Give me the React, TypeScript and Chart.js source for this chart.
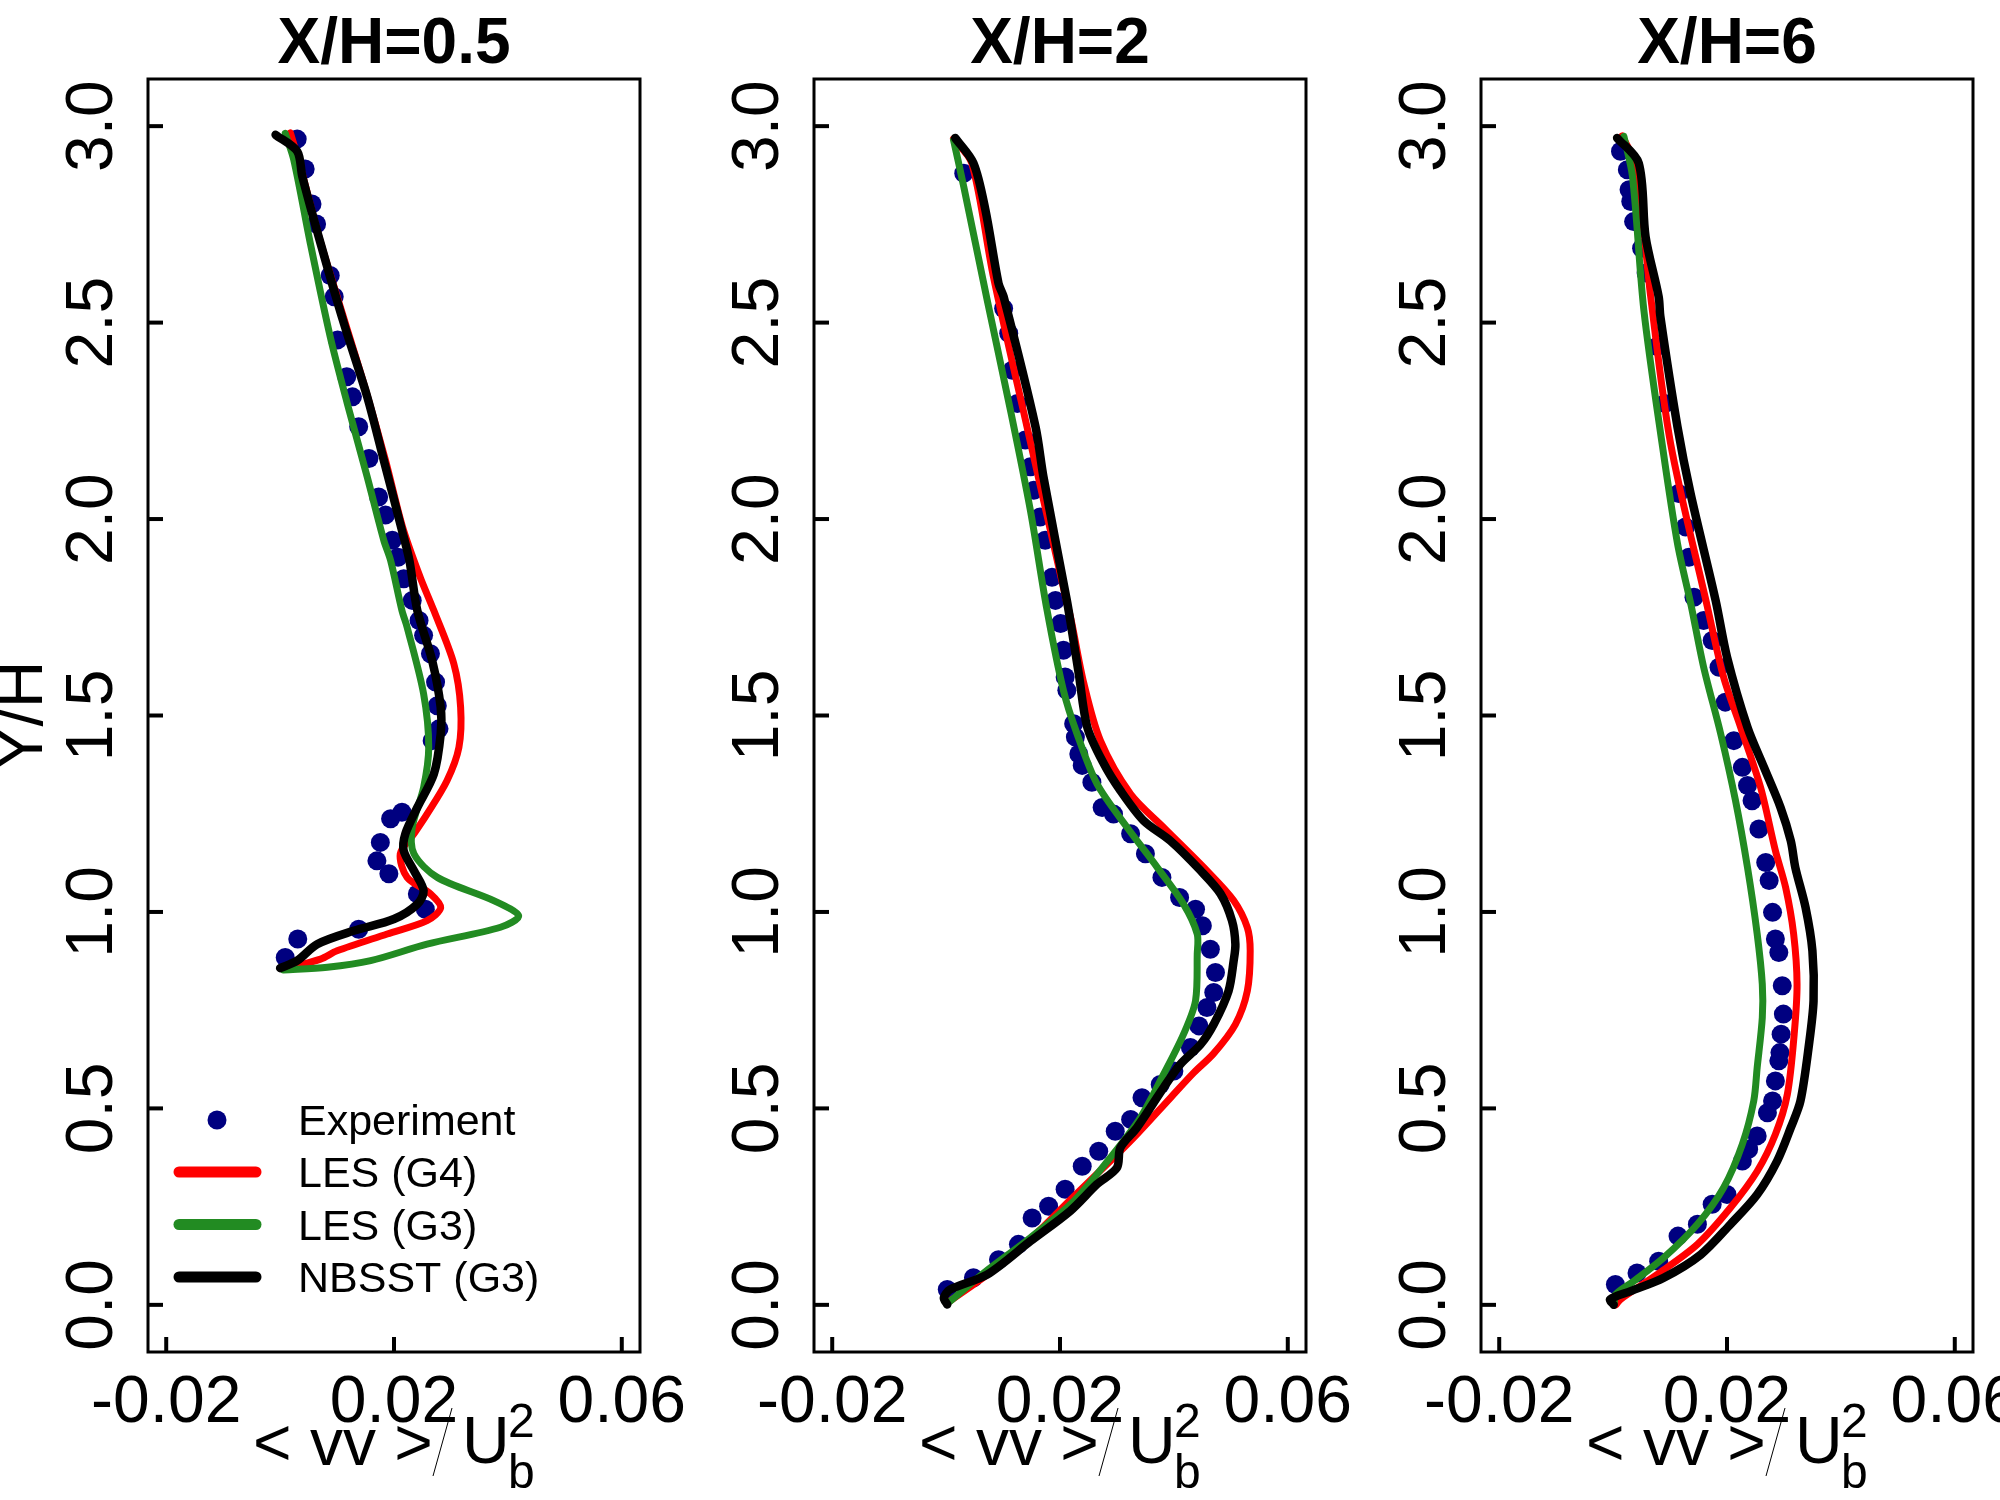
import { useEffect, useRef } from "react";
import { Chart, registerables } from "chart.js";

Chart.register(...registerables);

// ---- data: [<vv>/Ub^2, Y/H] ----
const exp05 = [
  [0.003, 2.967], [0.0044, 2.891], [0.0056, 2.802], [0.0064, 2.751], [0.0088, 2.62],
  [0.0095, 2.566], [0.0101, 2.456], [0.0117, 2.362], [0.0127, 2.311], [0.0138, 2.235],
  [0.0156, 2.154], [0.0173, 2.056], [0.0185, 2.01], [0.0197, 1.946], [0.0207, 1.903],
  [0.0217, 1.848], [0.0232, 1.793], [0.0244, 1.742], [0.0252, 1.704], [0.0264, 1.657],
  [0.0273, 1.585], [0.0276, 1.525], [0.0279, 1.466], [0.0267, 1.436], [0.0214, 1.254],
  [0.0194, 1.237], [0.0176, 1.177], [0.017, 1.13], [0.0191, 1.097], [0.0241, 1.046],
  [0.0255, 1.007], [0.0138, 0.956], [0.0031, 0.931], [0.0009, 0.884],
];
const les4_05 = [
  [0.0018, 2.983], [0.0035, 2.9], [0.0068, 2.72], [0.011, 2.52], [0.015, 2.33],
  [0.0185, 2.15], [0.0215, 1.98], [0.0246, 1.852], [0.027, 1.767], [0.0305, 1.632],
  [0.0317, 1.521], [0.0314, 1.419], [0.0293, 1.334], [0.0258, 1.249], [0.0235, 1.199],
  [0.0211, 1.148], [0.0223, 1.088], [0.0264, 1.046], [0.0282, 1.011], [0.0258, 0.978],
  [0.0188, 0.944], [0.01, 0.901], [0.0071, 0.88], [0.0006, 0.854],
];
const les3_05 = [
  [0.0009, 2.982], [0.0024, 2.914], [0.0053, 2.702], [0.0088, 2.464], [0.0118, 2.294],
  [0.0153, 2.107], [0.0182, 1.946], [0.0194, 1.895], [0.0214, 1.767], [0.0223, 1.725],
  [0.0252, 1.555], [0.0261, 1.419], [0.0252, 1.317], [0.0232, 1.215], [0.0235, 1.148],
  [0.0276, 1.088], [0.0375, 1.029], [0.0419, 0.99], [0.0387, 0.961], [0.0258, 0.918],
  [0.0159, 0.876], [0.0083, 0.859], [0.0006, 0.852],
];
const nbsst05 = [
  [-0.0008, 2.978], [0.003, 2.936], [0.0039, 2.872], [0.0071, 2.702], [0.0112, 2.498],
  [0.0153, 2.311], [0.0182, 2.15], [0.0214, 1.971], [0.0227, 1.895], [0.0241, 1.767],
  [0.0267, 1.64], [0.0282, 1.521], [0.0282, 1.453], [0.027, 1.351], [0.0241, 1.266],
  [0.022, 1.199], [0.0217, 1.156], [0.0235, 1.105], [0.0252, 1.054], [0.0241, 1.02],
  [0.02, 0.982], [0.0129, 0.952], [0.0065, 0.918], [0.003, 0.876], [0.0, 0.857],
];

const exp2 = [
  [0.0031, 2.88], [0.0101, 2.536], [0.011, 2.473], [0.0116, 2.379], [0.0125, 2.294],
  [0.0139, 2.201], [0.0148, 2.133], [0.0154, 2.073], [0.0165, 2.005], [0.0174, 1.946],
  [0.0186, 1.852], [0.0192, 1.793], [0.0201, 1.734], [0.0206, 1.666], [0.0209, 1.598],
  [0.0212, 1.564], [0.0224, 1.479], [0.0227, 1.445], [0.0233, 1.402], [0.0239, 1.373],
  [0.0256, 1.33], [0.0274, 1.266], [0.0294, 1.249], [0.0324, 1.199], [0.035, 1.148],
  [0.0379, 1.088], [0.041, 1.037], [0.0438, 1.007], [0.045, 0.965], [0.0464, 0.905],
  [0.0473, 0.846], [0.047, 0.795], [0.0458, 0.757], [0.0444, 0.71], [0.0429, 0.655],
  [0.04, 0.595], [0.0376, 0.561], [0.0344, 0.527], [0.0324, 0.472], [0.0297, 0.442],
  [0.0268, 0.391], [0.0239, 0.353], [0.0209, 0.294], [0.018, 0.251], [0.0151, 0.221],
  [0.0127, 0.154], [0.0092, 0.115], [0.0048, 0.069], [0.0002, 0.039],
];
const les4_2 = [
  [0.0013, 2.968], [0.0045, 2.906], [0.0083, 2.617], [0.0142, 2.235], [0.021, 1.8],
  [0.022, 1.74], [0.0242, 1.581], [0.0271, 1.436], [0.0324, 1.3], [0.0382, 1.215],
  [0.0458, 1.105], [0.0505, 1.029], [0.0529, 0.96], [0.0534, 0.901], [0.0529, 0.799],
  [0.0508, 0.714], [0.047, 0.64], [0.0435, 0.591], [0.0394, 0.527], [0.0335, 0.434],
  [0.0294, 0.374], [0.022, 0.27], [0.015, 0.17], [0.0075, 0.08], [0.0007, 0.01],
];
const les3_2 = [
  [0.0013, 2.965], [0.0031, 2.846], [0.0072, 2.558], [0.0113, 2.277], [0.0148, 2.022],
  [0.0177, 1.77], [0.0206, 1.564], [0.023, 1.453], [0.0265, 1.326], [0.0318, 1.215],
  [0.0371, 1.113], [0.0417, 1.02], [0.0441, 0.944], [0.0441, 0.893], [0.0438, 0.774],
  [0.0417, 0.689], [0.0382, 0.587], [0.0341, 0.476], [0.0288, 0.374], [0.0224, 0.264],
  [0.0148, 0.171], [0.0066, 0.081], [0.0007, 0.009],
];
const nbsst2 = [
  [0.0016, 2.97], [0.0048, 2.906], [0.0069, 2.787], [0.0092, 2.6], [0.0101, 2.566],
  [0.0157, 2.235], [0.0171, 2.107], [0.0212, 1.793], [0.0218, 1.742], [0.0233, 1.606],
  [0.0248, 1.47], [0.0277, 1.377], [0.0306, 1.309], [0.0347, 1.232], [0.0394, 1.181],
  [0.0447, 1.105], [0.0482, 1.046], [0.0502, 0.978], [0.0508, 0.918], [0.0505, 0.876],
  [0.0496, 0.799], [0.047, 0.714], [0.0447, 0.663], [0.0411, 0.612], [0.0382, 0.553],
  [0.0335, 0.451], [0.0306, 0.4], [0.03, 0.349], [0.0265, 0.307], [0.0218, 0.239],
  [0.0148, 0.162], [0.0072, 0.077], [0.0007, 0.039], [-0.0004, 0.018], [0.0002, 0.001],
];

const exp6 = [
  [0.0013, 2.936], [0.0025, 2.889], [0.0028, 2.838], [0.0031, 2.808], [0.0036, 2.757],
  [0.005, 2.689], [0.0058, 2.626], [0.0077, 2.439], [0.0091, 2.294], [0.0115, 2.065],
  [0.0127, 1.98], [0.0133, 1.903], [0.0142, 1.801], [0.0159, 1.742], [0.0174, 1.691],
  [0.0186, 1.623], [0.0197, 1.534], [0.0212, 1.436], [0.0227, 1.368], [0.0236, 1.322],
  [0.0244, 1.283], [0.0256, 1.211], [0.0268, 1.126], [0.0274, 1.08], [0.028, 0.999],
  [0.0285, 0.931], [0.0291, 0.897], [0.0297, 0.812], [0.0299, 0.74], [0.0295, 0.689],
  [0.0293, 0.642], [0.0291, 0.621], [0.0285, 0.57], [0.028, 0.519], [0.0271, 0.489],
  [0.0253, 0.43], [0.0238, 0.396], [0.0227, 0.366], [0.02, 0.281], [0.0174, 0.256],
  [0.0148, 0.205], [0.0114, 0.175], [0.008, 0.111], [0.0042, 0.081], [0.0004, 0.052],
];
const les4_6 = [
  [0.0016, 2.975], [0.004, 2.9], [0.0066, 2.566], [0.0101, 2.192], [0.0165, 1.78],
  [0.0194, 1.598], [0.0224, 1.47], [0.0259, 1.317], [0.0285, 1.156], [0.0303, 1.062],
  [0.0317, 0.944], [0.0323, 0.816], [0.0318, 0.689], [0.0306, 0.536], [0.0285, 0.434],
  [0.0253, 0.34], [0.0206, 0.247], [0.0148, 0.154], [0.0077, 0.077], [0.0013, 0.014],
  [0.0005, 0.0],
];
const les3_6 = [
  [0.0019, 2.974], [0.0034, 2.872], [0.0054, 2.532], [0.0086, 2.192], [0.0113, 1.938],
  [0.0137, 1.78], [0.0159, 1.623], [0.0189, 1.453], [0.0215, 1.283], [0.0236, 1.113],
  [0.0253, 0.944], [0.0262, 0.816], [0.0262, 0.731], [0.0253, 0.604], [0.0247, 0.519],
  [0.0227, 0.409], [0.0194, 0.298], [0.0148, 0.205], [0.0089, 0.12], [0.0036, 0.06],
  [0.0004, 0.026], [0.0002, 0.005],
];
const nbsst6 = [
  [0.0007, 2.97], [0.0045, 2.906], [0.0057, 2.719], [0.008, 2.566], [0.0083, 2.515],
  [0.0113, 2.235], [0.0136, 2.065], [0.018, 1.793], [0.02, 1.649], [0.0236, 1.47],
  [0.0265, 1.368], [0.0294, 1.266], [0.0312, 1.181], [0.032, 1.113], [0.0338, 1.011],
  [0.035, 0.901], [0.0352, 0.774], [0.0344, 0.663], [0.0329, 0.519], [0.0312, 0.451],
  [0.0288, 0.366], [0.0253, 0.281], [0.0206, 0.205], [0.0154, 0.128], [0.0089, 0.069],
  [0.0031, 0.035], [-0.0005, 0.014], [0.0001, 0.0],
];

const titles = ["X/H=0.5", "X/H=2", "X/H=6"];
const seriesNames = ["Experiment", "LES (G4)", "LES (G3)", "NBSST (G3)"];
const xTicks = [-0.02, 0.02, 0.06];
const xTickLabels = ["-0.02", "0.02", "0.06"];
const yTicks = [0, 0.5, 1, 1.5, 2, 2.5, 3];
const yTickLabels = ["0.0", "0.5", "1.0", "1.5", "2.0", "2.5", "3.0"];

const NAVY = "#000080";
const RED = "#FF0000";
const GREEN = "#228B22";
const BLACK = "#000000";
const FONT = '"Liberation Sans", Arial, Helvetica, sans-serif';

const BOX_LEFT = [148, 814, 1481];
const PAD = { left: 148, right: 90, top: 79, bottom: 148 };
const CANVAS_W = 730;
const CANVAS_H = 1500;

type Pt = number[];
const toXY = (pts: Pt[]) => pts.map(([x, y]) => ({ x, y }));

const curve = (label: string, pts: Pt[], color: string, width: number, order: number) => ({
  label,
  data: toXY(pts),
  showLine: true,
  borderColor: color,
  backgroundColor: color,
  borderWidth: width,
  pointRadius: 0,
  tension: 0.3,
  borderCapStyle: "round",
  borderJoinStyle: "round",
  order,
});

// R-style frame, inward ticks, rotated y labels, title, axis labels, legend
const framePlugin = {
  id: "rframe",
  afterDraw(chart: any, _args: any, opts: any) {
    const { ctx, chartArea: a, scales } = chart;
    const xs = scales.x;
    const ys = scales.y;
    const cx = (a.left + a.right) / 2;
    ctx.save();
    ctx.strokeStyle = "#000";
    ctx.fillStyle = "#000";
    ctx.lineWidth = 3;
    ctx.strokeRect(a.left, a.top, a.right - a.left, a.bottom - a.top);

    ctx.lineWidth = 4;
    ctx.font = `66px ${FONT}`;
    yTicks.forEach((v, i) => {
      const py = ys.getPixelForValue(v);
      ctx.beginPath();
      ctx.moveTo(a.left, py);
      ctx.lineTo(a.left + 15, py);
      ctx.stroke();
      ctx.save();
      ctx.translate(a.left - 36, py);
      ctx.rotate(-Math.PI / 2);
      ctx.textAlign = "center";
      ctx.textBaseline = "alphabetic";
      ctx.fillText(yTickLabels[i], 0, 0);
      ctx.restore();
    });
    xTicks.forEach((v, i) => {
      const px = xs.getPixelForValue(v);
      ctx.beginPath();
      ctx.moveTo(px, a.bottom);
      ctx.lineTo(px, a.bottom - 15);
      ctx.stroke();
      ctx.textAlign = "center";
      ctx.textBaseline = "alphabetic";
      ctx.fillText(xTickLabels[i], px, a.bottom + 70);
    });

    // title
    ctx.font = `bold 64px ${FONT}`;
    ctx.textAlign = "center";
    ctx.fillText(opts.title, cx, a.top - 16);

    // x label  < vv > / U_b^2
    ctx.textAlign = "left";
    ctx.font = `66px ${FONT}`;
    ctx.fillText("< vv >", cx - 141, a.bottom + 113);
    ctx.lineWidth = 1;
    ctx.beginPath();
    ctx.moveTo(cx + 58, a.bottom + 56);
    ctx.lineTo(cx + 39, a.bottom + 124);
    ctx.stroke();
    ctx.fillText("U", cx + 68, a.bottom + 111);
    ctx.font = `48px ${FONT}`;
    ctx.fillText("2", cx + 114, a.bottom + 85);
    ctx.fillText("b", cx + 114, a.bottom + 136);

    if (opts.showYLabel) {
      ctx.save();
      ctx.font = `66px ${FONT}`;
      ctx.translate(a.left - 106, (a.top + a.bottom) / 2);
      ctx.rotate(-Math.PI / 2);
      ctx.textAlign = "center";
      ctx.fillText("Y/H", 0, 0);
      ctx.restore();
    }

    if (opts.showLegend) {
      const rows = [-232, -180, -127.5, -75];
      const colors = [NAVY, RED, GREEN, BLACK];
      ctx.font = `43px ${FONT}`;
      ctx.textAlign = "left";
      rows.forEach((dy, i) => {
        const ry = a.bottom + dy;
        if (i === 0) {
          ctx.fillStyle = NAVY;
          ctx.beginPath();
          ctx.arc(a.left + 69, ry, 9.5, 0, Math.PI * 2);
          ctx.fill();
        } else {
          ctx.strokeStyle = colors[i];
          ctx.lineWidth = 11;
          ctx.lineCap = "round";
          ctx.beginPath();
          ctx.moveTo(a.left + 31, ry);
          ctx.lineTo(a.left + 108, ry);
          ctx.stroke();
        }
        ctx.fillStyle = "#000";
        ctx.fillText(seriesNames[i], a.left + 150, ry + 15);
      });
    }
    ctx.restore();
  },
};

type PanelProps = {
  index: number;
  exp: Pt[];
  les4: Pt[];
  les3: Pt[];
  nbsst: Pt[];
};

function Panel({ index, exp, les4, les3, nbsst }: PanelProps) {
  const canvasRef = useRef<HTMLCanvasElement>(null);
  const chartRef = useRef<Chart | null>(null);

  useEffect(() => {
    if (!canvasRef.current) return;
    chartRef.current?.destroy();
    chartRef.current = new Chart(canvasRef.current, {
      type: "scatter",
      data: {
        datasets: [
          {
            label: seriesNames[0],
            data: toXY(exp),
            showLine: false,
            pointRadius: 9.5,
            pointBackgroundColor: NAVY,
            pointBorderColor: NAVY,
            pointBorderWidth: 0,
            order: 3,
          },
          curve(seriesNames[1], les4, RED, 7, 2),
          curve(seriesNames[2], les3, GREEN, 7, 1),
          curve(seriesNames[3], nbsst, BLACK, 8.5, 0),
        ] as any,
      },
      options: {
        animation: false,
        responsive: false,
        events: [],
        layout: { padding: PAD },
        scales: {
          x: { type: "linear", min: -0.0232, max: 0.0632, display: false },
          y: { type: "linear", min: -0.12, max: 3.12, display: false },
        },
        plugins: {
          legend: { display: false },
          tooltip: { enabled: false },
          rframe: {
            title: titles[index],
            showYLabel: index === 0,
            showLegend: index === 0,
          },
        } as any,
      },
      plugins: [framePlugin],
    });
    return () => {
      chartRef.current?.destroy();
      chartRef.current = null;
    };
  }, [index, exp, les4, les3, nbsst]);

  return (
    <canvas
      ref={canvasRef}
      width={CANVAS_W}
      height={CANVAS_H}
      style={{
        position: "absolute",
        left: BOX_LEFT[index] - PAD.left,
        top: 0,
        width: CANVAS_W,
        height: CANVAS_H,
      }}
    />
  );
}

export default function App() {
  return (
    <div
      style={{
        position: "absolute",
        left: 0,
        top: 0,
        width: 2000,
        height: 1500,
        background: "#fff",
        overflow: "hidden",
      }}
    >
      <Panel index={0} exp={exp05} les4={les4_05} les3={les3_05} nbsst={nbsst05} />
      <Panel index={1} exp={exp2} les4={les4_2} les3={les3_2} nbsst={nbsst2} />
      <Panel index={2} exp={exp6} les4={les4_6} les3={les3_6} nbsst={nbsst6} />
    </div>
  );
}
